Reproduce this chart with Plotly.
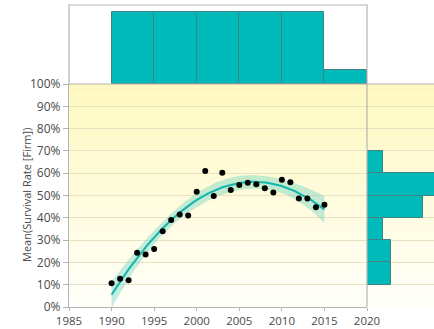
import numpy as np
import plotly.graph_objects as go

# Yearly mean survival rate (fraction)
years = list(range(1990, 2016))
survival = [0.107, 0.127, 0.120, 0.243, 0.235, 0.260, 0.340, 0.390, 0.415, 0.410,
            0.517, 0.610, 0.498, 0.602, 0.525, 0.547, 0.557, 0.550, 0.532, 0.514,
            0.571, 0.559, 0.487, 0.487, 0.447, 0.459]

x_ticks = [1985, 1990, 1995, 2000, 2005, 2010, 2015, 2020]

W, H = 434, 329
TEAL = "#00BABA"
EDGE = "#3E8485"

# quadratic fit with confidence band of the mean
xa = np.array(years, dtype=float)
ya = np.array(survival)
xc = xa - xa.mean()
X = np.vstack([np.ones_like(xc), xc, xc ** 2]).T
beta, *_ = np.linalg.lstsq(X, ya, rcond=None)
resid = ya - X @ beta
s2 = resid @ resid / (len(ya) - 3)
cov = s2 * np.linalg.inv(X.T @ X)
xf = np.linspace(xa.min(), xa.max(), 120)
xfc = xf - xa.mean()
Xf = np.vstack([np.ones_like(xfc), xfc, xfc ** 2]).T
yf = Xf @ beta
se = np.sqrt(np.einsum("ij,jk,ik->i", Xf, cov, Xf))
lo, hi = yf - 2.8 * se, yf + 2.8 * se

# panel placement (paper coordinates)
xm0, xm1 = 69 / W, 367 / W
ym0, ym1 = (H - 307) / H, (H - 84) / H
yt1 = (H - 5) / H

fig = go.Figure()

fig.add_trace(go.Scatter(
    x=np.concatenate([xf, xf[::-1]]), y=np.concatenate([hi, lo[::-1]]),
    fill="toself", fillcolor="rgba(110,212,190,0.42)", line=dict(width=0),
    hoverinfo="skip", showlegend=False, xaxis="x", yaxis="y"))
fig.add_trace(go.Scatter(
    x=xf, y=yf, mode="lines", line=dict(color="#14B4B0", width=2),
    showlegend=False, xaxis="x", yaxis="y"))
fig.add_trace(go.Scatter(
    x=years, y=survival, mode="markers",
    marker=dict(color="black", size=6), showlegend=False, xaxis="x", yaxis="y"))

# marginal histograms
fig.add_trace(go.Histogram(
    x=years, xbins=dict(start=1990, end=2020, size=5),
    marker=dict(color=TEAL, line=dict(color=EDGE, width=1)),
    showlegend=False, xaxis="x2", yaxis="y2"))
fig.add_trace(go.Histogram(
    y=survival, ybins=dict(start=0, end=1, size=0.1), orientation="h",
    marker=dict(color=TEAL, line=dict(color=EDGE, width=1)),
    showlegend=False, xaxis="x3", yaxis="y3"))

# vertical yellow-to-white gradient behind the lower panels
shapes = []
N = 60
top = np.array([255, 248, 188])
bot = np.array([255, 255, 250])
for i in range(N):
    t = (i + 0.5) / N
    c = bot + (top - bot) * t
    shapes.append(dict(type="rect", xref="paper", yref="y", x0=xm0, x1=1.0,
                       y0=i / N, y1=(i + 1) / N, layer="below", line=dict(width=0),
                       fillcolor="rgb(%d,%d,%d)" % tuple(c.round().astype(int))))
# frame of the top panel and panel separators
shapes.append(dict(type="rect", xref="paper", yref="paper", x0=xm0, x1=xm1,
                   y0=ym1, y1=yt1, line=dict(color="#B4B4B4", width=1.2)))
shapes.append(dict(type="line", xref="paper", yref="paper", x0=xm1, x1=1.0,
                   y0=ym1, y1=ym1, line=dict(color="#B4B4B4", width=1.2)))
shapes.append(dict(type="line", xref="paper", yref="paper", x0=xm1, x1=xm1,
                   y0=ym0, y1=ym1, line=dict(color="#B4B4B4", width=1.2)))

tickfont = dict(family="Open Sans, Noto Sans, sans-serif", size=12, color="#4A4A4A")
xtickfont = dict(family="Open Sans, Noto Sans, sans-serif", size=11.5, color="#4A4A4A")
grid = "#E7E2C4"

fig.update_layout(
    template="none",
    width=W, height=H, margin=dict(l=0, r=0, t=0, b=0, pad=0), autosize=False,
    paper_bgcolor="white", plot_bgcolor="rgba(0,0,0,0)",
    shapes=shapes, bargap=0,
    xaxis=dict(domain=[xm0, xm1], anchor="y", range=[1985, 2020], tickvals=x_ticks,
               ticks="outside", ticklen=3, tickcolor="#B4B4B4", showgrid=False,
               showline=True, linecolor="#B4B4B4", linewidth=1.2, zeroline=False,
               tickfont=xtickfont, automargin=False),
    yaxis=dict(domain=[ym0, ym1], anchor="x", range=[0, 1], dtick=0.1, tickformat=".0%",
               ticks="outside", ticklen=5, tickcolor="#B4B4B4", showgrid=True,
               gridcolor=grid, gridwidth=1, showline=True, linecolor="#B4B4B4",
               linewidth=1.2, zeroline=False, tickfont=tickfont, automargin=False),
    xaxis2=dict(domain=[xm0, xm1], anchor="y2", range=[1985, 2020], visible=False,
                automargin=False),
    yaxis2=dict(domain=[ym1, yt1], anchor="x2", range=[0, 5.48], visible=False,
                automargin=False),
    xaxis3=dict(domain=[xm1, 1.0], anchor="y3", range=[0, 8.4], visible=False,
                automargin=False),
    yaxis3=dict(domain=[ym0, ym1], anchor="x3", range=[0, 1], dtick=0.1,
                showgrid=True, gridcolor=grid, gridwidth=1, zeroline=False,
                showticklabels=False, ticks="", showline=False, automargin=False),
    annotations=[dict(text="Mean(Survival Rate [Firm])", xref="paper", yref="paper",
                      x=17 / W, y=(ym0 + ym1) / 2, textangle=-90, showarrow=False,
                      font=dict(family="Open Sans, Noto Sans, sans-serif", size=11,
                                color="#4A4A4A"))],
)

fig.write_html("out.html")
